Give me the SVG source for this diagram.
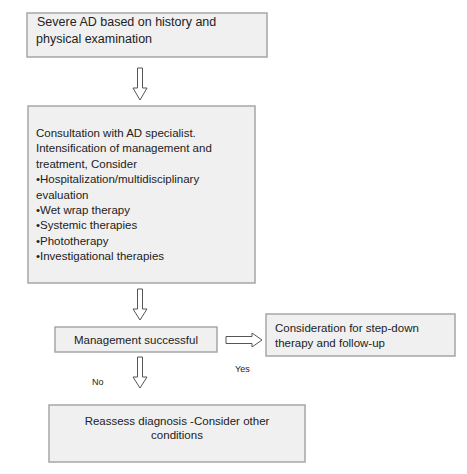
<svg xmlns="http://www.w3.org/2000/svg" width="467" height="474" viewBox="0 0 467 474">
<style>
.box{fill:#f0f0f0;stroke:#a6a6a6;stroke-width:1.5}
.t{font-family:"Liberation Sans",Arial,sans-serif;font-size:11.5px;fill:#222}
.c{font-family:"Liberation Sans",Arial,sans-serif;font-size:12.5px;fill:#222}
.s{font-family:"Liberation Sans",Arial,sans-serif;font-size:9px;fill:#222}
.arr{fill:#fff;stroke:#555;stroke-width:1}
</style>
<rect width="467" height="474" fill="#fff"/>
<g id="n1">
<rect class="box" x="27" y="13" width="240" height="44"/>
<text class="c" x="37" y="26"> Severe AD based on history and</text>
<text class="c" x="36" y="43">physical examination</text>
</g>
<g id="n2">
<rect class="box" x="28" y="106" width="227" height="177"/>
<text class="t" x="36" y="137">Consultation with AD specialist.</text>
<text class="t" x="36" y="152.4">Intensification of management and</text>
<text class="t" x="36" y="167.8">treatment, Consider</text>
<text class="t" x="36" y="183.2">•Hospitalization/multidisciplinary</text>
<text class="t" x="36" y="198.6">evaluation</text>
<text class="t" x="36" y="214">•Wet wrap therapy</text>
<text class="t" x="36" y="229.4">•Systemic therapies</text>
<text class="t" x="36" y="244.8">•Phototherapy</text>
<text class="t" x="36" y="260.2">•Investigational therapies</text>
</g>
<g id="n3">
<rect class="box" x="55" y="327" width="162" height="25"/>
<text class="t" x="136" y="344" text-anchor="middle">Management successful</text>
</g>
<g id="n4">
<rect class="box" x="266" y="314" width="189" height="42"/>
<text class="t" x="275" y="332">Consideration for step-down</text>
<text class="t" x="275" y="347">therapy and follow-up</text>
</g>
<g id="n5">
<rect class="box" x="49" y="405" width="256" height="57"/>
<text class="t" x="177" y="425" text-anchor="middle">Reassess diagnosis -Consider other</text>
<text class="t" x="177" y="439" text-anchor="middle">conditions</text>
</g>
<g id="connectors">
<path class="arr" d="M137.5,68 H142.5 V88 H147 L140,100 L133,88 H137.5 Z"/>
<path class="arr" d="M137.5,289 H142.5 V309 H147 L140,320 L133,309 H137.5 Z"/>
<path class="arr" d="M137.5,357 H142.5 V377 H147 L140,388 L133,377 H137.5 Z"/>
<path class="arr" d="M226,336.5 H252 V333 L262,340 L252,347 V343.5 H226 Z"/>
<text class="s" x="235" y="372">Yes</text>
<text class="s" x="92" y="385">No</text>
</g>
</svg>
